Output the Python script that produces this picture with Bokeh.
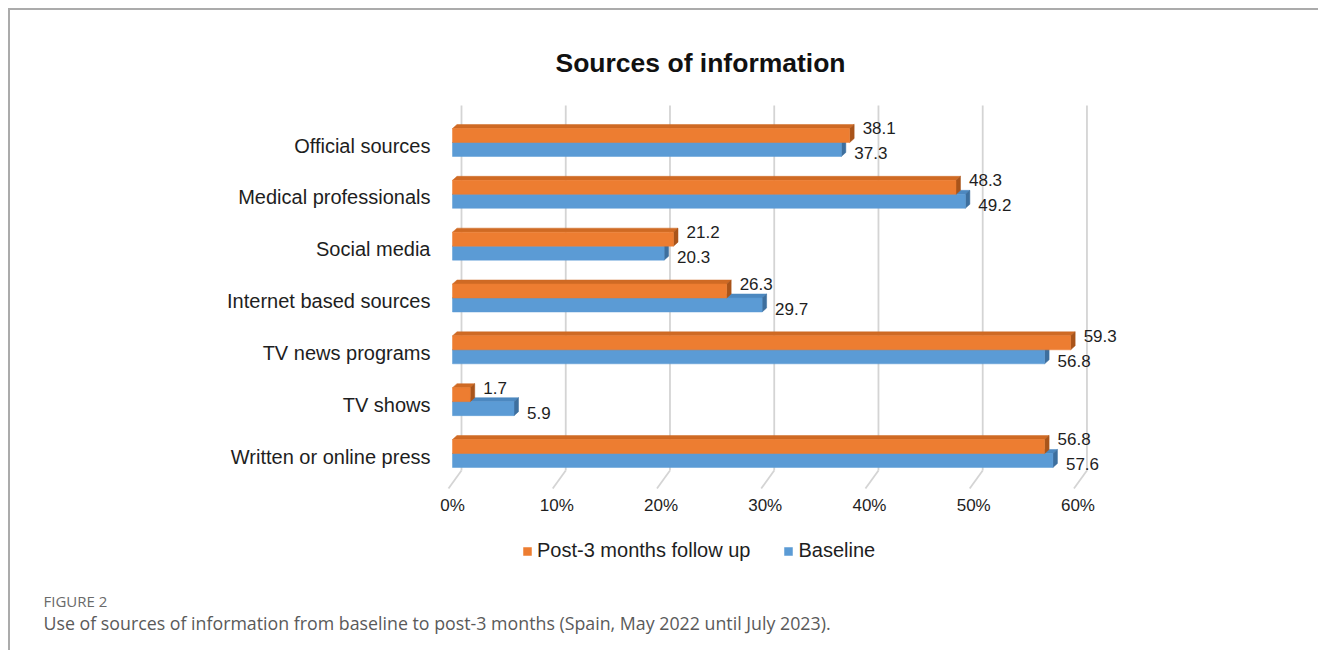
from bokeh.plotting import figure
from bokeh.models import Range1d, FixedTicker, Legend, LegendItem, ColumnDataSource, Label
from bokeh.core.properties import value
from bokeh.embed import file_html
from bokeh.resources import INLINE

# ---------------- data ----------------
categories = ["Official sources", "Medical professionals", "Social media",
              "Internet based sources", "TV news programs", "TV shows",
              "Written or online press"]
post3 = [38.1, 48.3, 21.2, 26.3, 59.3, 1.7, 56.8]
baseline = [37.3, 49.2, 20.3, 29.7, 56.8, 5.9, 57.6]
series_names = ["Post-3 months follow up", "Baseline"]
x_ticks = [0, 10, 20, 30, 40, 50, 60]
x_tick_labels = ["0%", "10%", "20%", "30%", "40%", "50%", "60%"]
title_text = "Sources of information"
fig_label = "FIGURE 2"
caption = "Use of sources of information from baseline to post-3 months (Spain, May 2022 until July 2023)."

# ---------------- styling / geometry ----------------
FONT = "Liberation Sans"
ORANGE, ORANGE_TOP, ORANGE_SIDE = "#ED7D31", "#CF6A24", "#A9541A"
BLUE, BLUE_TOP, BLUE_SIDE = "#5B9BD5", "#4C88C0", "#3D6F9E"
TXT = "#1e1e1e"

W, H = 1310, 642          # figure size (inside the 2px frame border)
MT = 93                   # space for the title above the plotting area
PX = 688 / 66             # pixels per percentage point
PY = 387 / 7.466          # pixels per category step
BAR_LEFT = 442            # pixel offset of 0% from the left edge
AXIS_Y = -0.714           # category coordinate of the x-axis line

X0 = -BAR_LEFT / PX
X1 = (W - BAR_LEFT) / PX
Y1 = 6.752
Y0 = Y1 - (H - MT) / PY

n = len(categories)
ypos = [n - 1 - i for i in range(n)]
BH = 0.27
DX = 4.5 / PX
DY = 4.0 / PY

p = figure(width=W, height=H, x_range=Range1d(X0, X1), y_range=Range1d(Y0, Y1),
           output_backend="svg", toolbar_location=None,
           min_border_left=0, min_border_right=0, min_border_top=MT, min_border_bottom=0,
           styles={"margin-top": "8px", "margin-left": "8px",
                   "border-top": "2px solid #ababab", "border-left": "2px solid #ababab"})
p.outline_line_color = None
p.background_fill_color = "white"
p.border_fill_color = "white"
p.xgrid.visible = False
p.ygrid.visible = False

# title
p.title.text = title_text
p.title.text_font = FONT
p.title.text_font_size = "26.5px"
p.title.text_font_style = "bold"
p.title.text_color = "#111111"
p.title.align = "left"
p.title.offset = 545
p.title.standoff = 52

# back-wall gridlines with 3D floor
gx = [t + 9 / PX for t in x_ticks]
g_top = Y1 - 2 / PY
g_floor = AXIS_Y + 20 / PY
g_front = AXIS_Y + 2 / PY
p.segment(x0=gx, y0=[g_top] * len(gx), x1=gx, y1=[g_floor] * len(gx),
          line_color="#d4d4d4", line_width=1.8)
p.segment(x0=gx, y0=[g_floor] * len(gx), x1=[g - 13 / PX for g in gx], y1=[g_front] * len(gx),
          line_color="#d4d4d4", line_width=1.8)


def faces(vals, bottoms):
    top_xs, top_ys, side_xs, side_ys = [], [], [], []
    for v, b in zip(vals, bottoms):
        t = b + BH
        top_xs.append([0, v, v + DX, DX])
        top_ys.append([t, t, t + DY, t + DY])
        side_xs.append([v, v + DX, v + DX, v])
        side_ys.append([b, b + DY, t + DY, t])
    return top_xs, top_ys, side_xs, side_ys


# baseline (lower bar)
b_bottom = [y - BH for y in ypos]
txs, tys, sxs, sys_ = faces(baseline, b_bottom)
p.patches(xs=txs, ys=tys, fill_color=BLUE_TOP, line_color=BLUE_TOP, line_width=0.5)
p.patches(xs=sxs, ys=sys_, fill_color=BLUE_SIDE, line_color=BLUE_SIDE, line_width=0.5)
r_blue = p.hbar(y=[y - BH / 2 for y in ypos], height=BH, left=0, right=baseline,
                fill_color=BLUE, line_color=BLUE, line_width=0.5)

# post-3 months (upper bar)
o_bottom = list(ypos)
txs, tys, sxs, sys_ = faces(post3, o_bottom)
p.patches(xs=txs, ys=tys, fill_color=ORANGE_TOP, line_color=ORANGE_TOP, line_width=0.5)
p.patches(xs=sxs, ys=sys_, fill_color=ORANGE_SIDE, line_color=ORANGE_SIDE, line_width=0.5)
r_orange = p.hbar(y=[y + BH / 2 for y in ypos], height=BH, left=0, right=post3,
                  fill_color=ORANGE, line_color=ORANGE, line_width=0.5)

# value labels
src_o = ColumnDataSource(dict(x=post3, y=[y + BH / 2 for y in ypos], t=[f"{v:.1f}" for v in post3]))
src_b = ColumnDataSource(dict(x=baseline, y=[y - BH / 2 for y in ypos], t=[f"{v:.1f}" for v in baseline]))
p.text(x="x", y="y", text="t", source=src_o, x_offset=13, y_offset=-7,
       text_font=value(FONT), text_font_size="17px", text_color=TXT, text_baseline="middle")
p.text(x="x", y="y", text="t", source=src_b, x_offset=13, y_offset=4,
       text_font=value(FONT), text_font_size="17px", text_color=TXT, text_baseline="middle")

# axes (drawn at fixed positions inside the plotting area)
p.xaxis.fixed_location = AXIS_Y
p.xaxis.ticker = FixedTicker(ticks=x_ticks)
p.xaxis.major_label_overrides = dict(zip(x_ticks, x_tick_labels))
p.xaxis.axis_line_color = None
p.xaxis.major_tick_line_color = None
p.xaxis.minor_tick_line_color = None
p.xaxis.major_tick_out = 0
p.xaxis.major_tick_in = 0
p.xaxis.minor_tick_out = 0
p.xaxis.major_label_standoff = 5
p.xaxis.major_label_text_font = FONT
p.xaxis.major_label_text_font_size = "17px"
p.xaxis.major_label_text_color = TXT

y_label_pos = [y - 0.06 for y in ypos]
p.yaxis.fixed_location = 0
p.yaxis.ticker = FixedTicker(ticks=y_label_pos)
p.yaxis.major_label_overrides = dict(zip(y_label_pos, categories))
p.yaxis.axis_line_color = None
p.yaxis.major_tick_line_color = None
p.yaxis.minor_tick_line_color = None
p.yaxis.major_tick_out = 0
p.yaxis.major_tick_in = 0
p.yaxis.minor_tick_out = 0
p.yaxis.major_label_standoff = 22
p.yaxis.major_label_text_font = FONT
p.yaxis.major_label_text_font_size = "20px"
p.yaxis.major_label_text_color = TXT

# legend
legend = Legend(items=[LegendItem(label=series_names[0], renderers=[r_orange]),
                       LegendItem(label=series_names[1], renderers=[r_blue])],
                orientation="horizontal", location=(512, 90),
                glyph_width=10, glyph_height=10, label_standoff=5, spacing=33,
                padding=0, margin=0, border_line_color=None, background_fill_alpha=0,
                label_text_font=FONT, label_text_font_size="20px", label_text_color=TXT)
p.add_layout(legend, "center")

# caption
p.add_layout(Label(x=33, y=52, x_units="screen", y_units="screen", text=fig_label,
                   text_font="Open Sans", text_font_size="15px", text_font_style="normal",
                   text_color="#6a6a6a", text_baseline="alphabetic"))
p.add_layout(Label(x=33, y=30, x_units="screen", y_units="screen", text=caption,
                   text_font="Open Sans", text_font_size="17.8px",
                   text_color="#5a5a5a", text_baseline="alphabetic"))

open("out.html", "w").write(file_html(p, INLINE))
